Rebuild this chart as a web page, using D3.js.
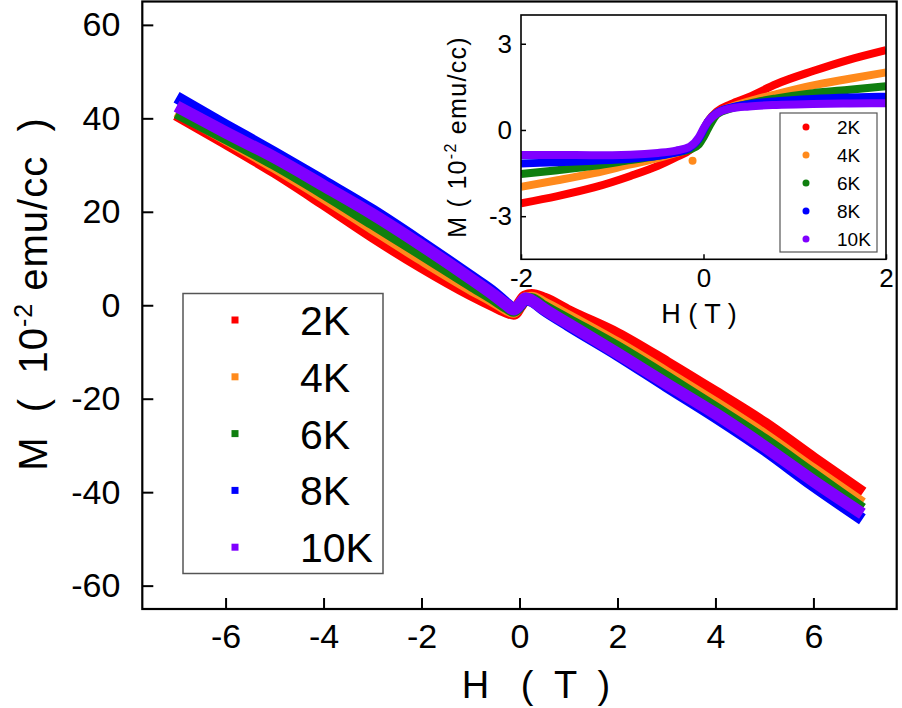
<!DOCTYPE html>
<html><head><meta charset="utf-8">
<script src="https://cdn.jsdelivr.net/npm/d3@7"></script>
<style>
html,body{margin:0;padding:0;background:#fff;}
svg{display:block;font-family:"Liberation Sans",Arial,sans-serif;}
</style></head>
<body>
<svg id="chart" width="902" height="708"></svg>
<script>
// ---------- data ----------
const seriesNames = ["2K", "4K", "6K", "8K", "10K"];
const seriesColors = ["#ff0000", "#ff8a1c", "#0f7f0f", "#0000ff", "#7f00ff"];

// main panel: field H (T) and magnetization M (10^-2 emu/cc)
const mainH   = [-7, -6, -5, -4, -3, -2, -1, -0.5, -0.25, -0.12, 0, 0.12, 0.25, 0.5, 1, 2, 3, 4, 5, 6, 7];
const main2K  = [41.0, 35.0, 28.8, 22.0, 15.0, 8.5, 2.6, 0.0, -1.2, -1.6, 0.0, 1.7, 2.0, 1.2, -1.5, -6.4, -12.5, -18.9, -25.5, -33.0, -40.3];
const main4K  = [41.5, 35.6, 29.6, 23.2, 16.5, 9.9, 3.6, 0.7, -0.9, -1.4, 0.0, 1.5, 1.6, 0.4, -2.4, -8.2, -14.5, -21.0, -27.8, -35.2, -42.4];
const main6K  = [41.2, 35.8, 30.2, 24.0, 17.5, 11.0, 4.4, 1.2, -0.5, -1.2, -0.2, 1.4, 1.3, -0.3, -3.2, -9.0, -15.4, -22.0, -28.8, -36.2, -43.6];
const main8K  = [44.5, 38.5, 32.6, 26.5, 20.3, 13.4, 6.2, 2.5, 0.2, -0.8, 0.0, 1.3, 0.9, -1.0, -4.3, -10.6, -17.3, -23.9, -30.9, -38.6, -45.8];
const main10K = [42.6, 37.0, 31.6, 25.6, 19.5, 12.8, 5.7, 2.0, 0.0, -0.9, 0.1, 1.5, 1.0, -0.8, -4.0, -10.3, -16.8, -23.2, -30.2, -37.6, -44.6];

// inset panel
const insetH   = [-2, -1.6, -1.2, -0.8, -0.5, -0.3, -0.15, -0.05, 0, 0.05, 0.15, 0.3, 0.5, 0.8, 1.2, 1.6, 2];
const inset2K  = [-2.55, -2.3, -2.0, -1.6, -1.25, -0.95, -0.7, -0.35, 0, 0.3, 0.65, 0.9, 1.15, 1.6, 2.05, 2.45, 2.78];
const inset4K  = [-1.98, -1.75, -1.5, -1.2, -0.98, -0.8, -0.65, -0.35, 0, 0.3, 0.6, 0.8, 1.0, 1.25, 1.55, 1.78, 2.0];
const inset6K  = [-1.53, -1.4, -1.25, -1.05, -0.9, -0.78, -0.68, -0.5, -0.25, 0.05, 0.55, 0.75, 0.92, 1.1, 1.28, 1.4, 1.52];
const inset8K  = [-1.17, -1.12, -1.07, -1.0, -0.9, -0.78, -0.62, -0.3, 0, 0.3, 0.6, 0.78, 0.9, 1.0, 1.08, 1.13, 1.16];
const inset10K = [-0.87, -0.87, -0.88, -0.86, -0.8, -0.72, -0.58, -0.25, 0.05, 0.3, 0.58, 0.75, 0.82, 0.87, 0.9, 0.92, 0.93];
const insetOutlier = {series: "4K", H: -0.12, M: -1.07};

const mainXTicks = [-6, -4, -2, 0, 2, 4, 6];
const mainYTicks = [-60, -40, -20, 0, 20, 40, 60];
const insetXTicks = [-2, 0, 2];
const insetYTicks = [-3, 0, 3];

// ---------- drawing ----------
const svg = d3.select("#chart");
svg.append("rect").attr("width", 902).attr("height", 708).attr("fill", "#fff");

const mainSeries = [main2K, main4K, main6K, main8K, main10K];
const insetSeries = [inset2K, inset4K, inset6K, inset8K, inset10K];

// main scales
const mL = 142.3, mR = 896.7, mT = 1.5, mB = 609;
const x = d3.scaleLinear().domain([-7.7, 7.7]).range([mL, mR]);
const y = d3.scaleLinear().domain([-65, 65]).range([mB, mT]);

svg.append("clipPath").attr("id", "mainClip").append("rect")
  .attr("x", mL).attr("y", mT).attr("width", mR - mL).attr("height", mB - mT);

const mainLine = d3.line().x(d => x(d[0])).y(d => y(d[1])).curve(d3.curveMonotoneX);
const gm = svg.append("g").attr("clip-path", "url(#mainClip)");
mainSeries.forEach((vals, i) => {
  gm.append("path")
    .datum(mainH.map((h, k) => [h, vals[k]]))
    .attr("d", mainLine)
    .attr("fill", "none")
    .attr("stroke", seriesColors[i])
    .attr("stroke-width", i === 0 ? 14 : 12)
    .attr("stroke-linejoin", "round")
    .attr("stroke-linecap", "butt");
});

// main axes
const fmt = d => String(d);
const xAxisG = svg.append("g").attr("transform", `translate(0,${mB})`)
  .call(d3.axisBottom(x).tickValues(mainXTicks).tickFormat(fmt).tickSizeInner(-11).tickSizeOuter(0).tickPadding(15));
const yAxisG = svg.append("g").attr("transform", `translate(${mL},0)`)
  .call(d3.axisLeft(y).tickValues(mainYTicks).tickFormat(fmt).tickSizeInner(-11).tickSizeOuter(0).tickPadding(22));
[xAxisG, yAxisG].forEach(g => {
  g.select(".domain").remove();
  g.selectAll(".tick line").attr("stroke", "#000").attr("stroke-width", 2);
  g.selectAll(".tick text").attr("font-size", 34).attr("fill", "#000")
    .attr("font-family", '"Liberation Sans",Arial,sans-serif');
});
svg.append("rect").attr("x", mL).attr("y", mT).attr("width", mR - mL).attr("height", mB - mT)
  .attr("fill", "none").attr("stroke", "#000").attr("stroke-width", 2.2);

// main axis titles
svg.append("text").attr("x", 536).attr("y", 698).attr("text-anchor", "middle")
  .attr("font-size", 38).attr("fill", "#000").style("white-space", "pre")
  .text("H   (  T  )");
const yl = svg.append("text").attr("transform", "translate(47,294) rotate(-90)")
  .attr("text-anchor", "middle").attr("font-size", 40).attr("fill", "#000")
  .style("white-space", "pre").attr("letter-spacing", 1);
yl.append("tspan").text("M  (  10");
yl.append("tspan").attr("dy", -15).attr("font-size", 25).text("-2");
yl.append("tspan").attr("dy", 15).text(" emu/cc  )");

// main legend
const lg = svg.append("g");
lg.append("rect").attr("x", 183).attr("y", 293.5).attr("width", 200).attr("height", 280)
  .attr("fill", "#fff").attr("stroke", "#555").attr("stroke-width", 1.5);
seriesNames.forEach((name, i) => {
  const cy = 320 + i * 56.8;
  lg.append("rect").attr("x", 231.5).attr("y", cy - 3.5).attr("width", 7).attr("height", 7)
    .attr("fill", seriesColors[i]);
  lg.append("text").attr("x", 300).attr("y", cy + 15).attr("font-size", 41).attr("fill", "#000").text(name);
});

// ---------- inset ----------
const iL = 521, iR = 886, iT = 15, iB = 259.3;
const xi = d3.scaleLinear().domain([-2, 2]).range([iL, iR]);
const yi = d3.scaleLinear().domain([-4.5, 4.0]).range([iB, iT]);
svg.append("rect").attr("x", iL).attr("y", iT).attr("width", iR - iL).attr("height", iB - iT).attr("fill", "#fff");
svg.append("clipPath").attr("id", "insetClip").append("rect")
  .attr("x", iL).attr("y", iT).attr("width", iR - iL).attr("height", iB - iT);
const insetLine = d3.line().x(d => xi(d[0])).y(d => yi(d[1])).curve(d3.curveMonotoneX);
const gi = svg.append("g").attr("clip-path", "url(#insetClip)");
insetSeries.forEach((vals, i) => {
  gi.append("path")
    .datum(insetH.map((h, k) => [h, vals[k]]))
    .attr("d", insetLine)
    .attr("fill", "none")
    .attr("stroke", seriesColors[i])
    .attr("stroke-width", 8)
    .attr("stroke-linejoin", "round");
});
gi.append("circle").attr("cx", xi(insetOutlier.H)).attr("cy", yi(insetOutlier.M)).attr("r", 4)
  .attr("fill", seriesColors[seriesNames.indexOf(insetOutlier.series)]);

const xiG = svg.append("g").attr("transform", `translate(0,${iB})`)
  .call(d3.axisBottom(xi).tickValues(insetXTicks).tickFormat(fmt).tickSizeInner(-5).tickSizeOuter(0).tickPadding(9));
const yiG = svg.append("g").attr("transform", `translate(${iL},0)`)
  .call(d3.axisLeft(yi).tickValues(insetYTicks).tickFormat(fmt).tickSizeInner(-5).tickSizeOuter(0).tickPadding(9));
[xiG, yiG].forEach(g => {
  g.select(".domain").remove();
  g.selectAll(".tick line").attr("stroke", "#000").attr("stroke-width", 1.5);
  g.selectAll(".tick text").attr("font-size", 26).attr("fill", "#000")
    .attr("font-family", '"Liberation Sans",Arial,sans-serif');
});
svg.append("rect").attr("x", iL).attr("y", iT).attr("width", iR - iL).attr("height", iB - iT)
  .attr("fill", "none").attr("stroke", "#000").attr("stroke-width", 1.6);

svg.append("text").attr("x", 699).attr("y", 323).attr("text-anchor", "middle")
  .attr("font-size", 27).attr("fill", "#000").style("white-space", "pre").text("H ( T )");
const yil = svg.append("text").attr("transform", "translate(466,137) rotate(-90)")
  .attr("text-anchor", "middle").attr("font-size", 25).attr("fill", "#000")
  .style("white-space", "pre").attr("letter-spacing", 1.3);
yil.append("tspan").text("M ( 10");
yil.append("tspan").attr("dy", -10).attr("font-size", 16).text("-2");
yil.append("tspan").attr("dy", 10).text(" emu/cc)");

// inset legend
const ilg = svg.append("g");
ilg.append("rect").attr("x", 780).attr("y", 113).attr("width", 97).attr("height", 139)
  .attr("fill", "#fff").attr("stroke", "#555").attr("stroke-width", 1.2);
seriesNames.forEach((name, i) => {
  const cy = 127 + i * 28;
  ilg.append("circle").attr("cx", 806).attr("cy", cy).attr("r", 3.5).attr("fill", seriesColors[i]);
  ilg.append("text").attr("x", 837).attr("y", cy + 7).attr("font-size", 19).attr("fill", "#000").text(name);
});
</script>
</body></html>
